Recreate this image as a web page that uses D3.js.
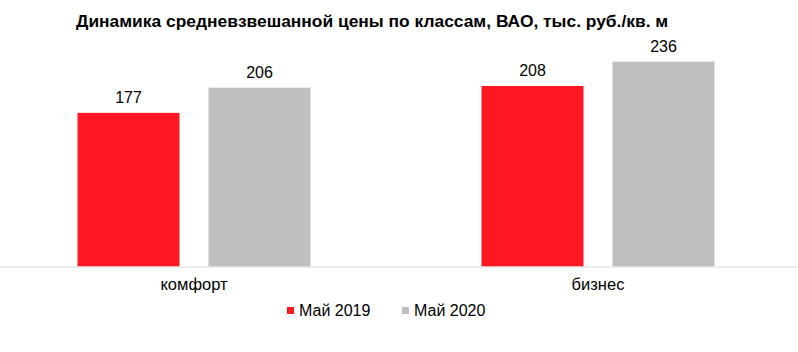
<!DOCTYPE html>
<html>
<head>
<meta charset="utf-8">
<script src="https://cdn.jsdelivr.net/npm/d3@7"></script>
<style>
  body { margin: 0; background: #fff; }
  text { font-family: "Liberation Sans", Arial, sans-serif; fill: #000; }
</style>
</head>
<body>
<div id="chart"></div>
<script>
'use strict';

// data
var categories = ["комфорт", "бизнес"];
var seriesNames = ["Май 2019", "Май 2020"];
var may2019 = [177, 208];
var may2020 = [206, 236];
var colors = ["#ff1721", "#bfbfbf"];
var title = "Динамика средневзвешанной цены по классам, ВАО, тыс. руб./кв. м";

var width = 798, height = 352;
var baseY = 266.5;

var svg = d3.select("#chart").append("svg")
  .attr("width", width).attr("height", height);

var rows = categories.map(function(c, i){
  return {cat: c, values: [may2019[i], may2020[i]]};
});

var x0 = d3.scaleBand().domain(categories).range([-8, 800]);
var groupW = 233;
var x1 = d3.scaleBand().domain(seriesNames).range([0, groupW]).paddingInner(29/131);
var y = d3.scaleLinear().domain([0, 250]).range([baseY, 49.5]);

// title
svg.append("text")
  .attr("x", 76).attr("y", 27)
  .style("font-weight", "bold").style("font-size", "17.4px")
  .text(title);

// bars
var groups = svg.selectAll("g.cat").data(rows).enter().append("g")
  .attr("class", "cat")
  .attr("transform", function(d){ return "translate(" + (x0(d.cat) + (x0.bandwidth() - groupW) / 2) + ",0)"; });

groups.selectAll("rect").data(function(d){
    return d.values.map(function(v, j){ return {name: seriesNames[j], v: v, j: j}; });
  }).enter().append("rect")
  .attr("x", function(d){ return x1(d.name); })
  .attr("y", function(d){ return y(d.v); })
  .attr("width", x1.bandwidth())
  .attr("height", function(d){ return baseY - y(d.v); })
  .attr("fill", function(d){ return colors[d.j]; });

groups.selectAll("text.val").data(function(d){
    return d.values.map(function(v, j){ return {name: seriesNames[j], v: v}; });
  }).enter().append("text")
  .attr("class", "val")
  .attr("x", function(d){ return x1(d.name) + x1.bandwidth() / 2; })
  .attr("y", function(d){ return y(d.v) - 10; })
  .attr("text-anchor", "middle")
  .style("font-size", "16px")
  .text(function(d){ return d.v; });

// baseline
svg.append("line")
  .attr("x1", 0).attr("x2", width)
  .attr("y1", baseY + 0.5).attr("y2", baseY + 0.5)
  .attr("stroke", "#d9d9d9").attr("stroke-width", 1);

// category labels
svg.selectAll("text.cat").data(categories).enter().append("text")
  .attr("class", "cat")
  .attr("x", function(d){ return x0(d) + x0.bandwidth() / 2; })
  .attr("y", 289.5)
  .attr("text-anchor", "middle")
  .style("font-size", "16.5px")
  .text(function(d){ return d; });

// legend
var legendX = [287, 402];
var legend = svg.selectAll("g.legend").data(seriesNames).enter().append("g")
  .attr("class", "legend")
  .attr("transform", function(d, i){ return "translate(" + legendX[i] + ",0)"; });
legend.append("rect")
  .attr("x", 0).attr("y", 307).attr("width", 7).attr("height", 7)
  .attr("fill", function(d, i){ return colors[i]; });
legend.append("text")
  .attr("x", 12).attr("y", 315.5)
  .style("font-size", "16px")
  .text(function(d){ return d; });
</script>
</body>
</html>
